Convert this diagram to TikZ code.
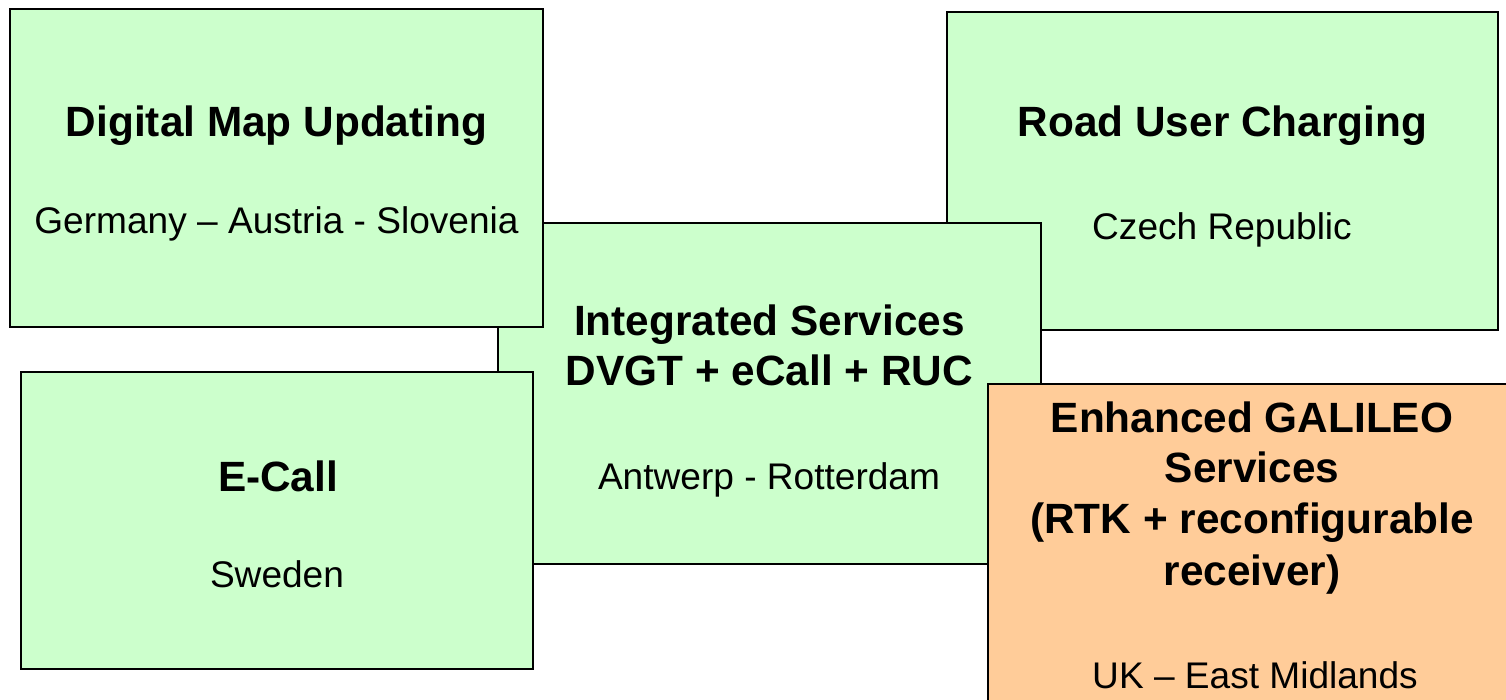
\documentclass[tikz,border=0pt]{standalone}
\usepackage{fontspec}
\setmainfont{Liberation Sans}
\usepackage{tikz}
\definecolor{boxgreen}{HTML}{CCFFCC}
\definecolor{boxorange}{HTML}{FFCC99}

\begin{document}
\begin{tikzpicture}[x=0.02cm,y=-0.02cm]
\tikzstyle{every node}+=[inner sep=0pt, outer sep=0pt]
\tikzstyle{box}=[draw=black, line width=0.9pt, rectangle]
\tikzstyle{boxtitle}=[anchor=base, font=\fontsize{24.1}{29}\selectfont\bfseries]
\tikzstyle{boxplace}=[anchor=base, font=\fontsize{21.1}{26}\selectfont]
\useasboundingbox (0,0) rectangle (1506,699);
% boxes, back to front
\node [box, fill=boxgreen, minimum width=11.02cm, minimum height=6.36cm] (road) at (1222.5,171) {};
\node [box, fill=boxgreen, minimum width=10.86cm, minimum height=6.82cm] (integ) at (769.5,393.5) {};
\node [box, fill=boxgreen, minimum width=10.66cm, minimum height=6.36cm] (map) at (276.5,168) {};
\node [box, fill=boxgreen, minimum width=10.24cm, minimum height=5.94cm] (ecall) at (277,520.5) {};
\node [box, fill=boxorange, minimum width=10.56cm, minimum height=6.92cm] (galileo) at (1252,557) {};
% texts
\node [boxtitle] (mapT) at (276.5,137) {Digital Map Updating};
\node [boxplace] (mapP) at (276.5,233) {Germany -- Austria - Slovenia};
\node [boxtitle] (roadT) at (1222.5,137) {Road User Charging};
\node [boxplace] (roadP) at (1222,239) {Czech Republic};
\node [boxtitle] (integT1) at (769.5,335) {Integrated Services};
\node [boxtitle] (integT2) at (769.5,385) {DVGT + eCall + RUC};
\node [boxplace] (integP) at (769,489) {Antwerp - Rotterdam};
\node [boxtitle] (ecallT) at (278,491) {E-Call};
\node [boxplace] (ecallP) at (277,587) {Sweden};
\node [boxtitle] (galT1) at (1252,432) {Enhanced GALILEO};
\node [boxtitle] (galT2) at (1252,482) {Services};
\node [boxtitle] (galT3) at (1252,533) {(RTK + reconfigurable};
\node [boxtitle] (galT4) at (1252,585) {receiver)};
\node [boxplace] (galP) at (1255,688) {UK -- East Midlands};
\end{tikzpicture}
\end{document}
